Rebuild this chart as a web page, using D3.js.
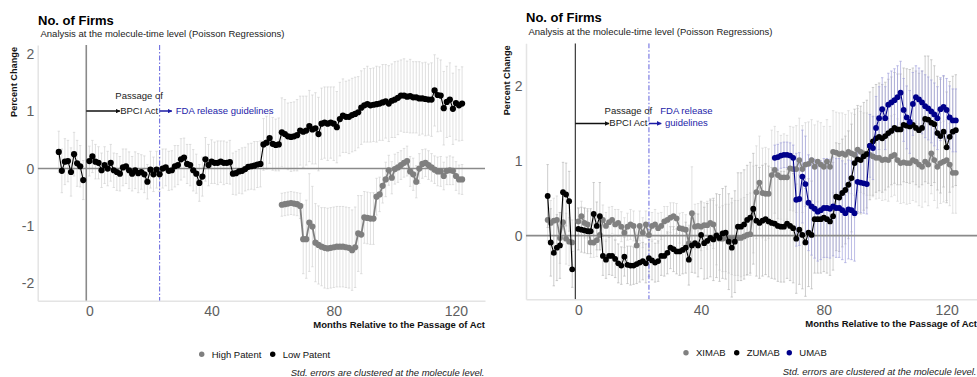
<!DOCTYPE html>
<html>
<head>
<meta charset="utf-8">
<script src="https://cdn.jsdelivr.net/npm/d3@7"></script>
<style>
  body { margin: 0; background: #fff; }
  svg { display: block; font-family: "Liberation Sans", Arial, Helvetica, sans-serif; }
</style>
</head>
<body>
<svg id="chart" width="977" height="377"></svg>
<script>
// ---------- shared labels ----------
const chartTitle = "No. of Firms";
const chartSubtitle = "Analysis at the molecule-time level (Poisson Regressions)";
const xTitle = "Months Relative to the Passage of Act";
const yTitle = "Percent Change";
const caption = "Std. errors are clustered at the molecule level.";
const xTickValues = [0, 40, 80, 120];
const leftYTicks = [-2, -1, 0, 1, 2];
const rightYTicks = [0, 1, 2];
const actMonth = -1;          // passage of the BPCI Act
const guidelineMonth = 23;    // FDA guidelines released

// ---------- left panel: High / Low patent ----------
const lowPatentMonths = [...d3.range(-10, -1), ...d3.range(0, 123)];
const lowPatentValues = [
  0.29,-0.04,0.12,0.13,-0.06,0.25,0.09,0.04,-0.20,
  0.13,0.21,0.12,0.10,-0.03,0.06,0.00,0.10,-0.03,-0.06,
  -0.09,0.02,0.04,-0.03,-0.09,-0.03,-0.08,-0.06,-0.10,-0.23,
  -0.02,-0.10,-0.02,-0.10,0.00,0.02,-0.04,-0.03,0.04,0.06,
  0.16,0.19,0.08,0.06,-0.03,-0.09,-0.25,-0.14,0.16,0.06,
  0.12,0.10,0.10,0.12,0.10,0.10,0.11,-0.09,-0.08,-0.05,
  -0.04,-0.01,0.03,0.04,0.05,0.07,0.08,
  0.42,0.45,0.53,0.43,0.41,0.42,0.63,0.60,0.56,0.55,
  0.56,0.58,0.66,0.64,0.66,0.74,0.68,0.70,0.60,0.78,
  0.80,0.78,0.80,0.78,0.72,0.86,0.92,0.90,0.90,0.93,
  0.95,0.98,1.06,1.10,1.12,1.10,1.11,1.12,1.13,1.15,
  1.17,1.13,1.18,1.20,1.23,1.27,1.27,1.25,1.26,1.24,
  1.24,1.22,1.22,1.21,1.20,1.20,1.36,1.28,1.27,1.05,
  1.16,1.20,1.04,1.14,1.10,1.13
];
const lowPatentErr = [
  0.36,0.38,0.40,0.36,0.42,0.38,0.40,0.36,0.34,
  0.26,0.28,0.30,0.28,0.30,0.32,0.30,0.32,0.30,0.32,
  0.30,0.32,0.30,0.32,0.30,0.32,0.34,0.30,0.32,0.30,
  0.32,0.30,0.32,0.30,0.34,0.32,0.34,0.34,0.36,0.34,
  0.36,0.34,0.34,0.36,0.36,0.34,0.32,0.34,0.38,0.36,
  0.38,0.36,0.38,0.36,0.38,0.36,0.38,0.36,0.38,0.38,
  0.40,0.38,0.40,0.40,0.42,0.40,0.40,
  0.45,0.46,0.44,0.46,0.45,0.46,0.60,0.60,0.58,0.60,
  0.60,0.62,0.60,0.62,0.60,0.62,0.60,0.62,0.64,0.62,
  0.62,0.64,0.62,0.64,0.62,0.64,0.64,0.62,0.64,0.64,
  0.64,0.62,0.64,0.64,0.66,0.64,0.64,0.66,0.64,0.66,
  0.64,0.66,0.64,0.66,0.64,0.62,0.64,0.62,0.64,0.62,
  0.62,0.64,0.62,0.64,0.62,0.64,0.62,0.64,0.62,0.64,
  0.62,0.64,0.62,0.64,0.62,0.64
];
const highPatentMonths = d3.range(63, 123);
const highPatentValues = [
  -0.63,-0.62,-0.61,-0.60,-0.61,-0.62,-0.65,-1.23,-1.23,-0.94,
  -1.01,-1.29,-1.33,-1.36,-1.38,-1.39,-1.38,-1.37,-1.36,-1.36,
  -1.36,-1.37,-1.38,-1.42,-1.37,-1.13,-1.15,-0.85,-0.86,-0.87,
  -0.87,-0.49,-0.45,-0.30,-0.19,-0.03,-0.16,-0.01,0.02,0.06,
  0.10,0.13,-0.05,-0.10,-0.23,0.00,0.08,0.10,0.06,0.02,
  -0.02,-0.05,-0.05,-0.13,-0.04,-0.03,-0.04,-0.13,-0.19,-0.19
];
const highPatentErr = [
  0.20,0.20,0.20,0.20,0.20,0.20,0.22,0.60,0.68,0.85,
  0.70,0.68,0.68,0.68,0.70,0.70,0.70,0.70,0.70,0.70,
  0.70,0.70,0.70,0.70,0.70,0.66,0.68,0.45,0.45,0.45,
  0.45,0.32,0.30,0.30,0.30,0.26,0.28,0.26,0.26,0.25,
  0.25,0.26,0.26,0.28,0.28,0.26,0.25,0.24,0.25,0.24,
  0.24,0.25,0.26,0.24,0.24,0.25,0.24,0.25,0.25,0.26
];

// ---------- right panel: XIMAB / ZUMAB / UMAB ----------
const ximabMonths = [...d3.range(-10, -1), ...d3.range(0, 124)];
const ximabValues = [
  0.21,0.17,0.20,0.21,-0.03,0.18,-0.04,-0.08,-0.09,
  0.19,0.26,0.17,0.15,-0.09,-0.09,-0.06,0.01,0.21,0.13,
  0.18,0.21,0.15,0.17,0.12,0.04,0.12,0.15,0.13,-0.13,
  0.13,0.04,0.15,0.01,0.13,0.15,0.10,0.13,0.19,0.21,
  0.24,0.26,0.23,0.10,0.09,0.08,-0.10,0.30,0.12,0.13,
  0.12,0.14,0.14,0.17,0.15,0.01,-0.04,-0.04,-0.03,-0.04,
  -0.04,-0.03,-0.03,-0.03,-0.01,0.01,0.02,0.35,0.58,0.71,
  0.57,0.56,0.56,0.81,0.88,0.81,0.78,0.78,0.78,0.90,
  0.89,0.89,1.01,0.89,0.95,0.96,1.01,0.92,0.99,0.95,
  0.92,0.99,0.92,1.12,1.11,1.09,1.10,1.08,1.12,1.10,
  1.08,1.15,1.12,1.10,1.09,1.08,1.06,1.04,1.04,1.01,
  1.02,1.01,1.06,1.08,1.01,0.97,0.98,0.97,0.97,1.01,
  0.99,0.95,0.92,0.99,0.95,1.10,1.01,0.92,0.97,0.99,
  1.01,0.95,0.84,0.84
];
const ximabErr = [
  0.28,0.30,0.30,0.32,0.34,0.30,0.34,0.32,0.30,
  0.18,0.20,0.20,0.18,0.20,0.20,0.22,0.20,0.20,0.18,
  0.20,0.18,0.20,0.18,0.20,0.20,0.18,0.20,0.20,0.22,
  0.20,0.20,0.18,0.20,0.18,0.20,0.20,0.18,0.20,0.18,
  0.20,0.18,0.20,0.20,0.22,0.20,0.24,0.62,0.30,0.30,
  0.32,0.30,0.32,0.30,0.32,0.40,0.42,0.44,0.45,0.46,
  0.48,0.50,0.50,0.52,0.52,0.54,0.55,0.58,0.62,0.62,
  0.60,0.62,0.60,0.60,0.58,0.58,0.56,0.58,0.56,0.56,
  0.56,0.58,0.56,0.58,0.56,0.56,0.54,0.56,0.54,0.56,
  0.54,0.56,0.54,0.55,0.54,0.55,0.54,0.54,0.55,0.54,
  0.54,0.55,0.54,0.54,0.55,0.54,0.54,0.55,0.54,0.54,
  0.54,0.55,0.54,0.54,0.55,0.54,0.54,0.55,0.54,0.54,
  0.54,0.55,0.54,0.54,0.55,0.54,0.54,0.55,0.54,0.54,
  0.54,0.55,0.54,0.54
];
const zumabMonths = [...d3.range(-10, -1), ...d3.range(0, 124)];
const zumabValues = [
  0.53,-0.09,-0.23,-0.16,-0.13,0.58,0.55,0.46,-0.45,
  0.09,0.08,0.07,0.06,0.06,0.29,0.13,0.26,-0.27,-0.32,
  -0.27,-0.27,-0.31,-0.37,-0.40,-0.28,-0.39,-0.40,-0.40,-0.38,
  -0.36,-0.34,-0.37,-0.30,-0.33,-0.36,-0.34,-0.27,-0.27,-0.23,
  -0.16,-0.18,-0.21,-0.21,-0.19,-0.16,-0.32,-0.13,-0.10,-0.13,
  0.01,-0.10,-0.07,-0.03,-0.05,0.00,-0.03,0.03,0.04,-0.08,
  -0.16,-0.08,0.12,0.12,0.15,0.21,0.24,0.36,0.20,0.17,
  0.20,0.22,0.19,0.17,0.16,0.13,0.12,0.12,0.16,0.13,
  0.10,-0.04,0.08,0.01,-0.09,0.04,0.01,0.22,0.22,0.22,
  0.24,0.22,0.19,0.26,0.52,0.51,0.57,0.61,0.68,0.77,
  0.97,1.02,1.01,1.06,1.09,1.20,1.26,1.30,1.32,1.30,
  1.33,1.37,1.40,1.44,1.42,1.42,1.48,1.47,1.46,1.48,
  1.44,1.41,1.44,1.56,1.55,1.51,1.49,1.37,1.33,1.39,
  1.18,1.32,1.39,1.41
];
const zumabErr = [
  0.42,0.45,0.44,0.44,0.44,0.40,0.42,0.40,0.24,
  0.28,0.30,0.30,0.30,0.30,0.42,0.32,0.45,0.26,0.25,
  0.25,0.26,0.25,0.26,0.25,0.26,0.25,0.26,0.25,0.26,
  0.26,0.25,0.26,0.25,0.26,0.26,0.27,0.26,0.27,0.28,
  0.28,0.30,0.30,0.32,0.32,0.34,0.34,0.36,0.40,0.42,
  0.45,0.48,0.50,0.52,0.55,0.56,0.58,0.60,0.62,0.64,
  0.66,0.68,0.72,0.72,0.73,0.73,0.74,0.74,0.74,0.74,
  0.74,0.74,0.74,0.74,0.74,0.74,0.74,0.74,0.73,0.73,
  0.73,0.73,0.73,0.72,0.72,0.72,0.72,0.72,0.72,0.72,
  0.72,0.72,0.72,0.72,0.72,0.72,0.72,0.72,0.72,0.72,
  0.72,0.72,0.72,0.72,0.72,0.72,0.72,0.72,0.72,0.72,
  0.72,0.72,0.72,0.74,0.74,0.74,0.76,0.76,0.76,0.76,
  0.76,0.76,0.76,0.84,0.85,0.84,0.78,0.76,0.76,0.74,
  0.74,0.74,0.74,0.74
];
const umabMonths = d3.range(64, 124);
const umabValues = [
  1.04,1.05,1.07,1.08,1.08,1.07,1.04,0.48,0.49,0.79,
  0.69,0.44,0.39,0.36,0.32,0.34,0.37,0.37,0.36,0.39,
  0.37,0.37,0.34,0.30,0.35,0.34,0.30,0.72,0.71,0.70,
  0.69,1.20,1.17,1.44,1.57,1.69,1.57,1.75,1.78,1.81,
  1.85,1.91,1.68,1.58,1.52,1.76,1.85,1.82,1.78,1.73,
  1.70,1.66,1.62,1.57,1.69,1.72,1.68,1.58,1.54,1.54
];
const umabErr = [
  0.17,0.17,0.17,0.17,0.17,0.17,0.17,0.62,0.62,0.62,
  0.64,0.64,0.65,0.66,0.66,0.66,0.66,0.66,0.66,0.66,
  0.66,0.66,0.66,0.66,0.66,0.66,0.64,0.40,0.40,0.40,
  0.40,0.42,0.42,0.42,0.42,0.42,0.42,0.42,0.42,0.42,
  0.42,0.42,0.42,0.42,0.42,0.42,0.42,0.42,0.42,0.42,
  0.42,0.42,0.42,0.42,0.42,0.42,0.42,0.42,0.42,0.42
];

// ---------- drawing ----------
const FONT = '"Liberation Sans", Arial, Helvetica, sans-serif';
const svg = d3.select("#chart");
const defs = svg.append("defs");

function arrowMarker(id, color) {
  defs.append("marker")
    .attr("id", id)
    .attr("viewBox", "0 0 10 10")
    .attr("refX", 9).attr("refY", 5)
    .attr("markerWidth", 3.2).attr("markerHeight", 3.2)
    .attr("orient", "auto")
    .append("path").attr("d", "M0,0L10,5L0,10z").attr("fill", color);
}
arrowMarker("arrow-black", "#111");
arrowMarker("arrow-blue", "#1c1ca6");

function zip(months, values, errs) {
  return months.map((m, i) => ({ m, v: values[i], e: errs[i] }));
}

// split a series where months are not consecutive (omitted reference month)
function runs(points) {
  const out = [];
  let cur = [];
  points.forEach((p, i) => {
    if (i > 0 && p.m - points[i - 1].m > 1) { out.push(cur); cur = []; }
    cur.push(p);
  });
  out.push(cur);
  return out;
}

function drawPanel(cfg) {
  const g = svg.append("g");
  const x = d3.scaleLinear().domain(cfg.xDomain).range(cfg.xRange);
  const y = d3.scaleLinear().domain(cfg.yDomain).range(cfg.yRange);
  const left = cfg.xRange[0], right = cfg.xRange[1];
  const top = cfg.yRange[1], bottom = cfg.yRange[0];

  const clipId = cfg.id + "-clip";
  defs.append("clipPath").attr("id", clipId)
    .append("rect").attr("x", left).attr("y", top)
    .attr("width", right - left).attr("height", bottom - top);

  // titles
  g.append("text").attr("x", cfg.titleX).attr("y", cfg.titleY)
    .attr("font-size", 13).attr("font-weight", "bold").attr("fill", "#000")
    .text(chartTitle);
  g.append("text").attr("x", cfg.titleX + 2.5).attr("y", cfg.titleY + 12.5)
    .attr("font-size", 9.5).attr("fill", "#222")
    .text(chartSubtitle);

  // axes
  const xAxis = d3.axisBottom(x).tickValues(xTickValues).tickSize(0).tickSizeOuter(0).tickPadding(5.5);
  g.append("g").attr("transform", `translate(0,${bottom})`).call(xAxis)
    .attr("font-family", FONT).attr("font-size", 14)
    .call(a => a.select(".domain").attr("stroke", "#e4e4e4").attr("stroke-width", 1.5))
    .call(a => a.selectAll("text").attr("fill", "#5e5e5e"));
  const yAxis = d3.axisLeft(y).tickValues(cfg.yTicks).tickSize(0).tickSizeOuter(0).tickPadding(3.5)
    .tickFormat(d3.format("d"));
  g.append("g").attr("transform", `translate(${left},0)`).call(yAxis)
    .attr("font-family", FONT).attr("font-size", 14)
    .call(a => a.select(".domain").attr("stroke", "#e4e4e4").attr("stroke-width", 1.5))
    .call(a => a.selectAll("text").attr("fill", "#5e5e5e").text(d => d < 0 ? "-" + Math.abs(d) : d));

  // axis titles
  g.append("text").attr("x", right).attr("y", bottom + 27.6)
    .attr("text-anchor", "end").attr("font-size", 9.5).attr("font-weight", "bold").attr("fill", "#111")
    .text(xTitle);
  g.append("text")
    .attr("transform", `translate(${cfg.yTitleX},${top + 2}) rotate(-90)`)
    .attr("text-anchor", "end").attr("font-size", 9.2).attr("font-weight", "bold").attr("fill", "#111")
    .text(yTitle);

  const plot = g.append("g").attr("clip-path", `url(#${clipId})`);

  // error bars
  cfg.series.forEach(s => {
    const pts = zip(s.months, s.values, s.errs);
    const eb = plot.append("g").attr("stroke", s.barColor).attr("stroke-width", 0.7).attr("fill", "none");
    pts.forEach(p => {
      const cx = x(p.m), y0 = y(p.v - p.e), y1 = y(p.v + p.e);
      eb.append("line").attr("x1", cx).attr("x2", cx).attr("y1", y0).attr("y2", y1);
      eb.append("line").attr("x1", cx - 1.2).attr("x2", cx + 1.2).attr("y1", y0).attr("y2", y0);
      eb.append("line").attr("x1", cx - 1.2).attr("x2", cx + 1.2).attr("y1", y1).attr("y2", y1);
    });
  });

  // reference lines
  plot.append("line").attr("x1", left).attr("x2", right).attr("y1", y(0)).attr("y2", y(0))
    .attr("stroke", cfg.zeroColor).attr("stroke-width", 1.6);
  plot.append("line").attr("x1", x(actMonth)).attr("x2", x(actMonth)).attr("y1", top).attr("y2", bottom)
    .attr("stroke", cfg.actLineColor).attr("stroke-width", cfg.actLineWidth);
  plot.append("line").attr("x1", x(guidelineMonth)).attr("x2", x(guidelineMonth)).attr("y1", top).attr("y2", bottom)
    .attr("stroke", "#6f6fe0").attr("stroke-width", 1.1).attr("stroke-dasharray", "5,2,1.5,2");

  // annotations
  const ay = y(cfg.arrowY);
  plot.append("line").attr("x1", x(actMonth)).attr("x2", x(10)).attr("y1", ay).attr("y2", ay)
    .attr("stroke", "#111").attr("stroke-width", 1.5).attr("marker-end", "url(#arrow-black)");
  plot.append("line").attr("x1", x(guidelineMonth)).attr("x2", x(27)).attr("y1", ay).attr("y2", ay)
    .attr("stroke", "#1c1ca6").attr("stroke-width", 1.5).attr("marker-end", "url(#arrow-blue)");
  const ann = g.append("g").attr("font-size", 9.5);
  ann.append("text").attr("x", x(16.3)).attr("y", ay - cfg.annGap + 2.5).attr("text-anchor", "middle")
    .attr("fill", "#222").text("Passage of");
  ann.append("text").attr("x", x(16.3)).attr("y", ay + 2.5).attr("text-anchor", "middle")
    .attr("fill", "#222").text("BPCI Act");
  cfg.fdaLines.forEach((t, i) => {
    ann.append("text").attr("x", x(cfg.fdaX)).attr("y", ay + 2.5 - (cfg.fdaLines.length - 1 - i) * cfg.annGap)
      .attr("text-anchor", cfg.fdaAnchor).attr("fill", "#2323a8").text(t);
  });

  // series lines and points
  const line = d3.line().x(p => x(p.m)).y(p => y(p.v));
  cfg.series.forEach(s => {
    const pts = zip(s.months, s.values, s.errs);
    runs(pts).forEach(r => {
      plot.append("path").datum(r).attr("d", line)
        .attr("fill", "none").attr("stroke", s.color).attr("stroke-width", s.lineWidth);
    });
    plot.append("g").selectAll("circle").data(pts).join("circle")
      .attr("cx", p => x(p.m)).attr("cy", p => y(p.v)).attr("r", s.r).attr("fill", s.color);
  });

  // legend
  const lg = g.append("g").attr("font-size", 9.5);
  cfg.series.forEach((s, i) => {
    const lx = cfg.legendX[i];
    lg.append("circle").attr("cx", lx).attr("cy", cfg.legendY).attr("r", 2.7).attr("fill", s.color);
    lg.append("text").attr("x", lx + 10).attr("y", cfg.legendY + 3.4).attr("fill", "#111").text(s.name);
  });

  // caption
  g.append("text").attr("x", right - 0.5).attr("y", cfg.captionY)
    .attr("text-anchor", "end").attr("font-size", 9.5).attr("font-style", "italic").attr("fill", "#222")
    .text(caption);
}

drawPanel({
  id: "left",
  xDomain: [-16.9, 129.5], xRange: [37.7, 485],
  yDomain: [-2.30, 2.15], yRange: [300.7, 45],
  yTicks: leftYTicks,
  titleX: 38, titleY: 24.5, yTitleX: 16.8,
  zeroColor: "#8a8a8a", actLineColor: "#8a8a8a", actLineWidth: 1.6,
  arrowY: 1, annGap: 14.4,
  fdaLines: ["FDA release guidelines"], fdaX: 28.3, fdaAnchor: "start",
  legendX: [201.7, 272.7], legendY: 354.3, captionY: 376,
  series: [
    { name: "High Patent", months: highPatentMonths, values: highPatentValues, errs: highPatentErr,
      color: "#7f7f7f", barColor: "#d2d2d2", lineWidth: 1.8, r: 3.1 },
    { name: "Low Patent", months: lowPatentMonths, values: lowPatentValues, errs: lowPatentErr,
      color: "#000000", barColor: "#d2d2d2", lineWidth: 1.1, r: 3.1 }
  ]
});

drawPanel({
  id: "right",
  xDomain: [-17.06, 129.9], xRange: [526, 977],
  yDomain: [-0.85, 2.57], yRange: [299.3, 43.3],
  yTicks: rightYTicks,
  titleX: 526, titleY: 22, yTitleX: 509.5,
  zeroColor: "#8a8a8a", actLineColor: "#111", actLineWidth: 1,
  arrowY: 1.5, annGap: 12,
  fdaLines: ["FDA release", "guidelines"], fdaX: 35.2, fdaAnchor: "middle",
  legendX: [686, 736.7, 789.3], legendY: 352.7, captionY: 375,
  series: [
    { name: "XIMAB", months: ximabMonths, values: ximabValues, errs: ximabErr,
      color: "#808080", barColor: "#d6d6d6", lineWidth: 1.6, r: 2.9 },
    { name: "ZUMAB", months: zumabMonths, values: zumabValues, errs: zumabErr,
      color: "#000000", barColor: "#b8b8b8", lineWidth: 1.1, r: 2.9 },
    { name: "UMAB", months: umabMonths, values: umabValues, errs: umabErr,
      color: "#00008b", barColor: "#a2a2dc", lineWidth: 1.1, r: 2.9 }
  ]
});
</script>
</body>
</html>
